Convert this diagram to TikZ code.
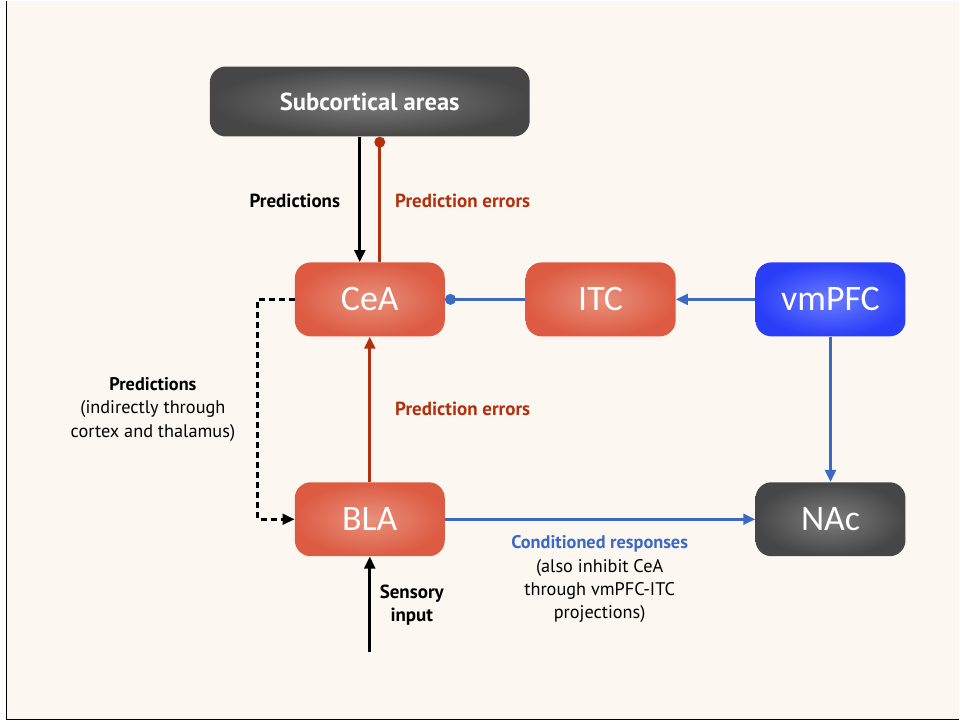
\documentclass[tikz,border=0pt]{standalone}
\usepackage{fontspec}
\setmainfont{PT Sans}
\newfontfamily\boxfont{Carlito}
\usepackage{tikz}
\usepackage{xcolor}
\usetikzlibrary{arrows.meta}

\definecolor{cream}{HTML}{FCF7F0}
\definecolor{errred}{HTML}{B3300E}
\definecolor{linkblue}{HTML}{3B69C6}
\definecolor{boxred}{HTML}{DD5B42}
\definecolor{boxredlight}{HTML}{E8917D}
\definecolor{boxgray}{HTML}{464646}
\definecolor{boxgraylight}{HTML}{7D7D7D}
\definecolor{boxblue}{HTML}{2A3EF8}
\definecolor{boxbluelight}{HTML}{6C7DFF}

\begin{document}
\begin{tikzpicture}[x=0.025cm, y=-0.025cm]
            % Define styles
            \tikzstyle{box} = [rectangle, rounded corners=0.4cm, minimum width=3.75cm, minimum height=1.85cm, inner sep=0pt, text=white, font=\boxfont\fontsize{25.5}{30}\selectfont]
            \tikzstyle{redbox} = [box, inner color=boxredlight, outer color=boxred]
            \tikzstyle{graybox} = [box, inner color=boxgraylight, outer color=boxgray]
            \tikzstyle{bluebox} = [box, inner color=boxbluelight, outer color=boxblue]
            \tikzstyle{boldnote} = [font=\bfseries\fontsize{13.5}{16.7}\selectfont, align=center]
            \tikzstyle{plainnote} = [font=\fontsize{13}{16.7}\selectfont, align=center]
            \tikzstyle{arrow} = [line width=1.9pt, -{Triangle[length=0.3cm, width=0.27cm]}]
            \tikzstyle{dotline} = [line width=1.9pt, -{Circle[length=0.27cm]}]

            % Page and frame
            \fill[white] (0,0) rectangle (960,721);
            \fill[cream] (7,0) rectangle (960,719);
            \draw[line width=0.8pt] (6.5,0) -- (6.5,719.5) -- (960,719.5);

            % Top row
            \node (sub) [graybox, minimum width=8cm, minimum height=1.75cm, font=\bfseries\fontsize{17.5}{20}\selectfont] at (370,101) {Subcortical areas};

            % Middle row
            \node (cea) [redbox] at (370,299) {CeA};
            \node (itc) [redbox] at (601,299) {ITC};
            \node (vmpfc) [bluebox] at (831,299) {vmPFC};

            % Bottom row
            \node (bla) [redbox] at (370,519) {BLA};
            \node (nac) [graybox] at (831,519) {NAc};
            \coordinate (sens) at (370,652);

            % Arrows
            \draw [arrow] ([xshift=-0.25cm]sub.south) -- ([xshift=-0.25cm]cea.north);
            \draw [dotline, errred] ([xshift=0.25cm]cea.north) -- ([xshift=0.25cm]sub.south);
            \draw [arrow, errred] (bla) -- (cea);
            \draw [arrow] (sens) -- (bla);
            \draw [dotline, linkblue] (itc) -- (cea);
            \draw [arrow, linkblue] (vmpfc) -- (itc);
            \draw [arrow, linkblue] (vmpfc) -- (nac);
            \draw [arrow, linkblue] (bla) -- (nac);
            \draw [arrow, dash pattern=on 0.15cm off 0.1cm] (cea.west) -- ([xshift=-0.925cm]cea.west) |- (bla.west);

            % Labels
            \node (predlbl) [boldnote] at (295,200) {Predictions};
            \node (errlbl) [boldnote, text=errred] at (463,200) {Prediction errors};
            \node (indlbl) [plainnote] at (153,409) {\textbf{Predictions}\\(indirectly through\\cortex and thalamus)};
            \node (errlbl2) [boldnote, text=errred] at (463,409) {Prediction errors};
            \node (condlbl) [plainnote] at (600,579) {\textcolor{linkblue}{\textbf{Conditioned responses}}\\(also inhibit CeA\\through vmPFC-ITC\\projections)};
            \node (senslbl) [boldnote] at (412,605) {Sensory\\input};
        \end{tikzpicture}
\end{document}
